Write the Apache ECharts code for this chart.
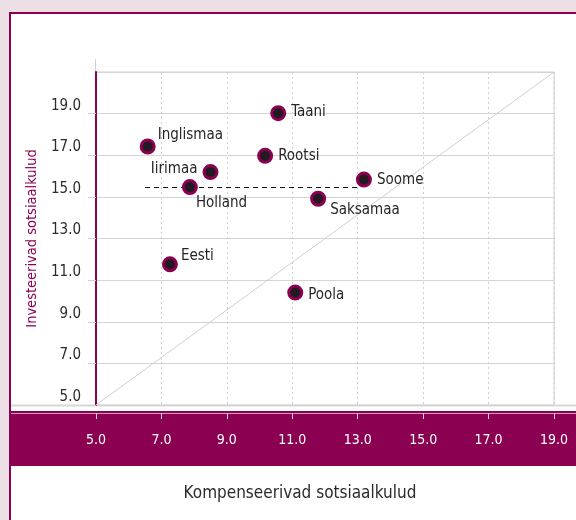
<!DOCTYPE html>
<html>
<head>
<meta charset="utf-8">
<script src="https://cdn.jsdelivr.net/npm/echarts@6/dist/echarts.min.js"></script>
<style>
  html, body { margin: 0; padding: 0; background: #ecdfe5; }
  #main { width: 576px; height: 520px; }
</style>
</head>
<body>
<div id="main"></div>
<script type="text/javascript">
// riigid ja väärtused (% SKP-st)
var countries = ['Inglismaa', 'Iirimaa', 'Holland', 'Taani', 'Rootsi', 'Soome', 'Saksamaa', 'Eesti', 'Poola'];
var compensating = [6.58, 8.50, 7.87, 10.57, 10.17, 13.19, 11.79, 7.26, 11.09];
var investing = [17.42, 16.19, 15.47, 19.02, 16.97, 15.83, 14.91, 11.76, 10.40];
// keskmise joon
var avgX = [6.5, 13.0];
var avgY = 15.45;
// teljed
var xTicks = [5, 7, 9, 11, 13, 15, 17, 19];
var yTicks = [5, 7, 9, 11, 13, 15, 17, 19, 21];

var maroon = '#8b0050';
var font = "'Liberation Sans Narrow', 'DejaVu Sans Condensed', 'Roboto Condensed', sans-serif";

// sildi paigutus
var labelPlace = {
  'Inglismaa': { position: 'right', offset: [-3, -11] },
  'Iirimaa':   { position: 'left',  offset: [0, -3] },
  'Holland':   { position: 'right', offset: [-7, 16] },
  'Taani':     { position: 'right', offset: [0, -1] },
  'Rootsi':    { position: 'right', offset: [0, 0] },
  'Soome':     { position: 'right', offset: [0, 1] },
  'Saksamaa':  { position: 'right', offset: [-1, 11] },
  'Eesti':     { position: 'right', offset: [-2, -8] },
  'Poola':     { position: 'right', offset: [0, 2] }
};

var points = [];
for (var i = 0; i < countries.length; i++) {
  var lp = labelPlace[countries[i]];
  points.push({
    name: countries[i],
    value: [compensating[i], investing[i]],
    label: { position: lp.position, offset: lp.offset }
  });
}

var chart = echarts.init(document.getElementById('main'));
var option = {
  animation: false,
  textStyle: { fontFamily: font },
  graphic: [
    { type: 'rect', z: -20, silent: true, shape: { x: 0, y: 0, width: 576, height: 520 }, style: { fill: '#ecdfe5' } },
    { type: 'rect', z: -19, silent: true, shape: { x: 10, y: 13, width: 600, height: 600 }, style: { fill: '#fff', stroke: maroon, lineWidth: 2 } },
    { type: 'line', z: -18, silent: true, shape: { x1: 11, y1: 405.5, x2: 576, y2: 405.5 }, style: { stroke: '#d8d8d8', lineWidth: 2 } },
    { type: 'rect', z: -18, silent: true, shape: { x: 11, y: 411, width: 570, height: 55 }, style: { fill: maroon } },
    { type: 'line', z: -17, silent: true, shape: { x1: 11, y1: 413.5, x2: 576, y2: 413.5 }, style: { stroke: '#ffffff', lineWidth: 1, opacity: 0.6 } },
    { type: 'line', z: -17, silent: true, shape: { x1: 95.5, y1: 59, x2: 95.5, y2: 72 }, style: { stroke: '#d0d0d0', lineWidth: 1 } }
  ],
  grid: {
    left: 96, right: 22, top: 72, bottom: 115,
    show: true, borderColor: '#d0d0d0', borderWidth: 1, backgroundColor: 'transparent'
  },
  xAxis: [
    {
      type: 'value', min: xTicks[0], max: xTicks[xTicks.length - 1], interval: 2,
      name: 'Kompenseerivad sotsiaalkulud', nameLocation: 'middle', nameGap: 80,
      nameTextStyle: { color: '#2b2b2b', fontSize: 17, fontFamily: font, padding: [0, 50, 0, 0] },
      axisLine: { show: false },
      axisTick: { show: false },
      axisLabel: { color: '#ffffff', fontSize: 14, margin: 28, fontFamily: font, formatter: function (v) { return v.toFixed(1); } },
      splitLine: { show: true, lineStyle: { color: '#cfcfcf', type: [2, 3], width: 1 } }
    },
    {
      type: 'value', min: xTicks[0], max: xTicks[xTicks.length - 1], interval: 2,
      position: 'bottom', offset: 8,
      axisLine: { show: false },
      axisTick: { show: true, length: 6, lineStyle: { color: '#e6d0dc', width: 1 } },
      axisLabel: { show: false },
      splitLine: { show: false }
    }
  ],
  yAxis: {
    type: 'value', min: yTicks[0], max: yTicks[yTicks.length - 1], interval: 2,
    name: 'Investeerivad sotsiaalkulud', nameLocation: 'middle', nameGap: 51,
    nameTextStyle: { color: maroon, fontSize: 14.5, fontFamily: font },
    axisLine: { show: true, lineStyle: { color: maroon, width: 2 } },
    axisTick: { show: true, length: 8, lineStyle: { color: '#d0d0d0' } },
    axisLabel: {
      color: '#2b2b2b', fontSize: 15, margin: 15, fontFamily: font, showMaxLabel: false,
      verticalAlign: 'bottom', lineHeight: 16,
      formatter: function (v) { return v.toFixed(1); }
    },
    splitLine: { show: true, lineStyle: { color: '#d4d4d4', width: 1 } }
  },
  series: [
    {
      type: 'line', silent: true, symbol: 'none', z: 1,
      data: [[xTicks[0], yTicks[0]], [xTicks[xTicks.length - 1], yTicks[yTicks.length - 1]]],
      lineStyle: { color: '#d0d0d0', width: 1 }
    },
    {
      type: 'line', silent: true, symbol: 'none', z: 2,
      data: [[avgX[0], avgY], [avgX[1], avgY]],
      lineStyle: { color: '#111111', width: 1.2, type: [5, 4] }
    },
    {
      type: 'scatter', z: 3,
      symbol: 'circle', symbolSize: 13,
      itemStyle: { color: '#221a20', borderColor: maroon, borderWidth: 3, opacity: 1 },
      label: {
        show: true, formatter: '{b}', color: '#262626', fontSize: 15, fontFamily: font, distance: 5
      },
      data: points
    }
  ]
};
chart.setOption(option);
</script>
</body>
</html>
